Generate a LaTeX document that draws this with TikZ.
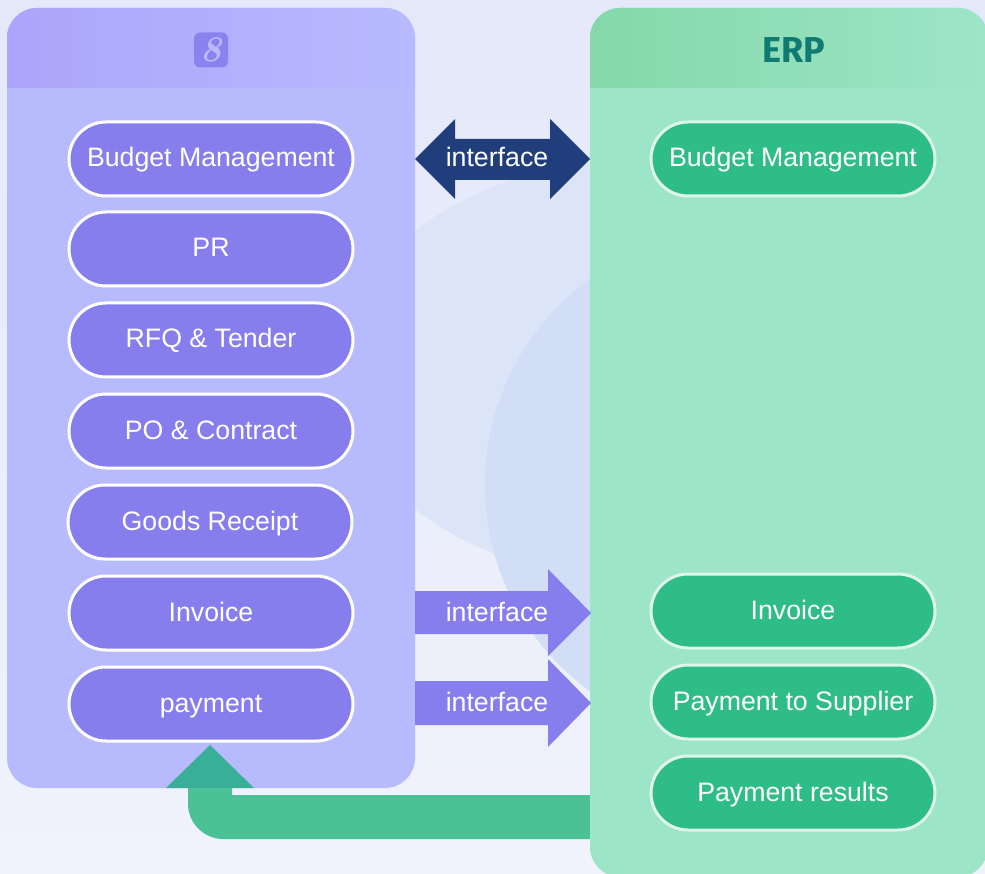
\documentclass[tikz,border=0pt]{standalone}
\usepackage{fontspec}
\newfontfamily\arial{Liberation Sans}
\newfontfamily\erpfont{Fira Sans}
\definecolor{bgtop}{HTML}{E4E8F9}
\definecolor{bgbot}{HTML}{F0F3FC}
\definecolor{blobA}{HTML}{DCE4F7}
\definecolor{blobB}{HTML}{D2DEF6}
\definecolor{lpanel}{HTML}{B8BAFE}
\definecolor{lhead}{HTML}{ABA5FB}
\definecolor{lpill}{HTML}{877EEE}
\definecolor{rpanel}{HTML}{9DE5C7}
\definecolor{rhead}{HTML}{84D8AA}
\definecolor{rpill}{HTML}{2EBD86}
\definecolor{rborder}{HTML}{DDF5EA}
\definecolor{erpc}{HTML}{0F7B73}
\definecolor{navyarrow}{HTML}{213E7C}
\definecolor{band}{HTML}{4AC295}
\definecolor{bandtip}{HTML}{3AAF97}
\definecolor{logoc}{HTML}{8A83EF}
\begin{document}
\begin{tikzpicture}[x=1pt,y=-1pt,
  pilltxt/.style={text=white, font=\arial\fontsize{26.7}{30}\selectfont,
    text height=22pt, text depth=6pt},
  lpillbox/.style={pilltxt, draw=white, line width=3pt, fill=lpill, rounded corners=37pt,
    minimum width=284pt, minimum height=74pt, inner sep=0pt},
  rpillbox/.style={lpillbox, draw=rborder, fill=rpill},
  arrtext/.style={pilltxt, inner sep=0pt}
]
\useasboundingbox (0,0) rectangle (985,874);
% background
\shade[top color=bgtop, bottom color=bgbot] (0,0) rectangle (985,874);
\fill[blobA] (640,370) ellipse [x radius=300, y radius=210];
\fill[blobB] (740,485) circle [radius=255];
% return band
\fill[band] (590,795) -- (232,795) -- (232,788) -- (188,788) -- (188,804)
  .. controls (188,823) and (204,839) .. (223,839) -- (590,839) -- cycle;
% left panel
\fill[lpanel, rounded corners=30pt] (7,8) rectangle (415,788);
\begin{scope}
  \clip[rounded corners=30pt] (7,8) rectangle (415,788);
  \shade[left color=lhead, right color=lpanel] (7,8) rectangle (415,88);
\end{scope}
% right panel
\fill[rpanel, rounded corners=30pt] (590,8) rectangle (988,877);
\begin{scope}
  \clip[rounded corners=30pt] (590,8) rectangle (988,877);
  \shade[left color=rhead, right color=rpanel] (590,8) rectangle (988,88);
\end{scope}
% logo and title
\node[fill=logoc, rounded corners=6pt, minimum width=34pt, minimum height=35pt, inner sep=0pt,
  text=lpanel, font=\fontsize{36}{36}\selectfont\bfseries\itshape] (logo) at (211,50) {8};
\node[text=erpc, font=\erpfont\bfseries\fontsize{36}{40}\selectfont] (erp) at (794,50) {ERP};
% left pills
\node[lpillbox] (l1) at (211,159) {Budget Management};
\node[lpillbox] (l2) at (211,249) {PR};
\node[lpillbox] (l3) at (211,340) {RFQ \& Tender};
\node[lpillbox] (l4) at (211,431) {PO \& Contract};
\node[lpillbox] (l5) at (210,522) {Goods Receipt};
\node[lpillbox] (l6) at (211,613) {Invoice};
\node[lpillbox] (l7) at (211,704) {payment};
% right pills
\node[rpillbox] (r1) at (793,159) {Budget Management};
\node[rpillbox] (r2) at (793,611) {Invoice};
\node[rpillbox] (r3) at (793,702) {Payment to Supplier};
\node[rpillbox] (r4) at (793,793) {Payment results};
% interface arrows
\fill[navyarrow] (415,159) -- (455,119) -- (455,139) -- (550,139) -- (550,119) -- (590,159)
  -- (550,199) -- (550,180) -- (455,180) -- (455,199) -- cycle;
\node[arrtext] (if1) at (497,159) {interface};
\fill[lpill] (415,591) -- (548,591) -- (548,569) -- (591,613) -- (548,656) -- (548,634)
  -- (415,634) -- cycle;
\node[arrtext] (if2) at (497,613) {interface};
\fill[lpill] (415,681) -- (548,681) -- (548,659) -- (591,703) -- (548,747) -- (548,725)
  -- (415,725) -- cycle;
\node[arrtext] (if3) at (497,703) {interface};
% return arrow head
\fill[bandtip] (166,788) -- (210,745) -- (254,788) -- cycle;
\end{tikzpicture}
\end{document}
